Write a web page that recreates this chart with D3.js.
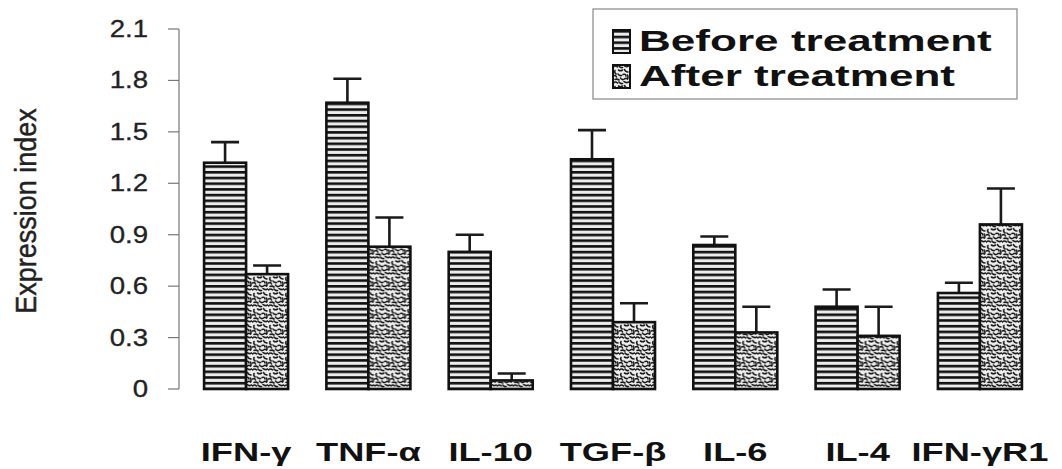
<!DOCTYPE html>
<html>
<head>
<meta charset="utf-8">
<script src="https://d3js.org/d3.v7.min.js"></script>
<style>
  body { margin: 0; background: #fff; }
  svg { display: block; font-family: "Liberation Sans", Arial, sans-serif; }
  .tick-label { font-size: 23px; fill: #222; stroke: #222; stroke-width: 0.3; }
  .cat-label { font-size: 25px; font-weight: bold; fill: #111; }
  .legend-text { font-size: 30px; font-weight: bold; fill: #111; }
</style>
</head>
<body>
<script>
    // data
    var categories = ["IFN-\u03b3", "TNF-\u03b1", "IL-10", "TGF-\u03b2", "IL-6", "IL-4", "IFN-\u03b3R1"];
    var series = ["Before treatment", "After treatment"];
    var beforeValues = [1.32, 1.67, 0.80, 1.34, 0.84, 0.48, 0.56];
    var beforeErrors = [0.12, 0.14, 0.10, 0.17, 0.05, 0.10, 0.06];
    var afterValues  = [0.67, 0.83, 0.05, 0.39, 0.33, 0.31, 0.96];
    var afterErrors  = [0.05, 0.17, 0.04, 0.11, 0.15, 0.17, 0.21];
    var yTicks = [0, 0.3, 0.6, 0.9, 1.2, 1.5, 1.8, 2.1];

    var W = 1062, H = 469;

    var svg = d3.select("body").append("svg")
        .attr("width", W)
        .attr("height", H);

    // patterns: horizontal stripes for before, stipple for after
    var defs = svg.append("defs");
    var stripes = defs.append("pattern")
        .attr("id", "stripes")
        .attr("patternUnits", "userSpaceOnUse")
        .attr("width", 8).attr("height", 5.7);
    stripes.append("rect").attr("width", 8).attr("height", 5.7).attr("fill", "#ececec");
    stripes.append("rect").attr("y", 0).attr("width", 8).attr("height", 2.6).attr("fill", "#111");

    var dots = defs.append("pattern")
        .attr("id", "dots")
        .attr("patternUnits", "userSpaceOnUse")
        .attr("width", 16).attr("height", 16);
    dots.append("rect").attr("width", 16).attr("height", 16).attr("fill", "#ededed");
    // squiggly worm shapes, drawn as thick strokes
    var worms = [
        "M0.5,2 q2,-2 4,0",
        "M6,1 q1.5,2 3.5,1.5",
        "M11,0.5 q2,2 4.5,0.5",
        "M2,5.5 q-1,2 1,3.5",
        "M5.5,5 q2,1.5 4,0",
        "M11.5,4.5 q1,2.5 3.5,2.5",
        "M0.5,11 q2,-1.5 3,1",
        "M5,9 q1,2 3.5,1.5",
        "M10,9.5 q2.5,-1 3,1.5",
        "M14.5,10 q1,2 0,4",
        "M2,14.5 q2,-1 4,0.5",
        "M7.5,13 q1,2 3,1.5",
        "M11.5,14 q1.5,-1.5 3,0"
    ];
    dots.selectAll("path").data(worms).enter().append("path")
        .attr("d", function(d) { return d; })
        .attr("fill", "none")
        .attr("stroke", "#1a1a1a")
        .attr("stroke-width", 1.6)
        .attr("stroke-linecap", "round");

    // scales
    var x = d3.scaleBand()
        .domain(categories)
        .range([185, 1041])
        .paddingInner(0.313)
        .paddingOuter(0.156);

    var xs = d3.scaleBand()
        .domain(series)
        .range([0, x.bandwidth()]);

    var y = d3.scaleLinear()
        .domain([0, 2.1])
        .range([389, 29]);

    // y axis
    var axisG = svg.append("g").attr("transform", "translate(179,0)");
    axisG.append("line")
        .attr("y1", y(0)).attr("y2", y(2.1))
        .attr("stroke", "#777").attr("stroke-width", 1.2);
    axisG.selectAll(".tk").data(yTicks).enter().append("line")
        .attr("x1", -11).attr("x2", 0)
        .attr("y1", function(d) { return y(d); })
        .attr("y2", function(d) { return y(d); })
        .attr("stroke", "#777").attr("stroke-width", 1.2);
    axisG.selectAll(".tick-label").data(yTicks).enter().append("text")
        .attr("class", "tick-label")
        .attr("text-anchor", "end")
        .attr("transform", function(d) { return "translate(-31," + (y(d) + 8) + ") scale(1.2,1)"; })
        .text(function(d) { return d === 0 ? "0" : d3.format(".1f")(d); });

    svg.append("text")
        .attr("transform", "translate(36,211) rotate(-90) scale(1,1.12)")
        .attr("text-anchor", "middle")
        .style("font-size", "27px")
        .style("fill", "#222")
        .style("stroke", "#222")
        .style("stroke-width", 0.4)
        .text("Expression index");

    // bars
    var rows = categories.map(function(c, i) {
        return [
            { cat: c, s: series[0], v: beforeValues[i], e: beforeErrors[i], fill: "url(#stripes)" },
            { cat: c, s: series[1], v: afterValues[i],  e: afterErrors[i],  fill: "url(#dots)" }
        ];
    });

    var groups = svg.selectAll(".grp").data(rows).enter().append("g")
        .attr("class", "grp")
        .attr("transform", function(d) { return "translate(" + x(d[0].cat) + ",0)"; });

    // error bars first so the bar top covers the stem base
    groups.selectAll(".err").data(function(d) { return d; }).enter().append("path")
        .attr("class", "err")
        .attr("d", function(d) {
            var cx = xs(d.s) + xs.bandwidth() / 2;
            var top = y(d.v + d.e);
            return "M" + cx + "," + y(d.v) + "V" + top + "M" + (cx - 14) + "," + top + "H" + (cx + 14);
        })
        .attr("fill", "none")
        .attr("stroke", "#1a1a1a")
        .attr("stroke-width", 2.6);

    groups.selectAll(".bar").data(function(d) { return d; }).enter().append("rect")
        .attr("class", "bar")
        .attr("x", function(d) { return xs(d.s); })
        .attr("width", xs.bandwidth())
        .attr("y", function(d) { return y(d.v); })
        .attr("height", function(d) { return y(0) - y(d.v); })
        .attr("fill", function(d) { return d.fill; })
        .attr("stroke", "#111")
        .attr("stroke-width", 2.6);

    // category labels
    svg.selectAll(".cat-label").data(categories).enter().append("text")
        .attr("class", "cat-label")
        .attr("text-anchor", "middle")
        .attr("transform", function(d) { return "translate(" + (x(d) + x.bandwidth() / 2) + ",461) scale(1.45,1)"; })
        .text(function(d) { return d; });

    // legend
    var legend = svg.append("g");
    legend.append("rect")
        .attr("x", 593).attr("y", 9)
        .attr("width", 424).attr("height", 90)
        .attr("fill", "#fff")
        .attr("stroke", "#888").attr("stroke-width", 1.2);
    var items = legend.selectAll(".item").data(series).enter().append("g")
        .attr("transform", function(d, i) { return "translate(613," + (30 + i * 35) + ")"; });
    items.append("rect")
        .attr("width", 17).attr("height", 23)
        .attr("fill", function(d, i) { return i === 0 ? "url(#stripes)" : "url(#dots)"; })
        .attr("stroke", "#111").attr("stroke-width", 2);
    items.append("text")
        .attr("class", "legend-text")
        .attr("transform", "translate(26,21) scale(1.47,1)")
        .text(function(d) { return d; });
</script>
</body>
</html>
